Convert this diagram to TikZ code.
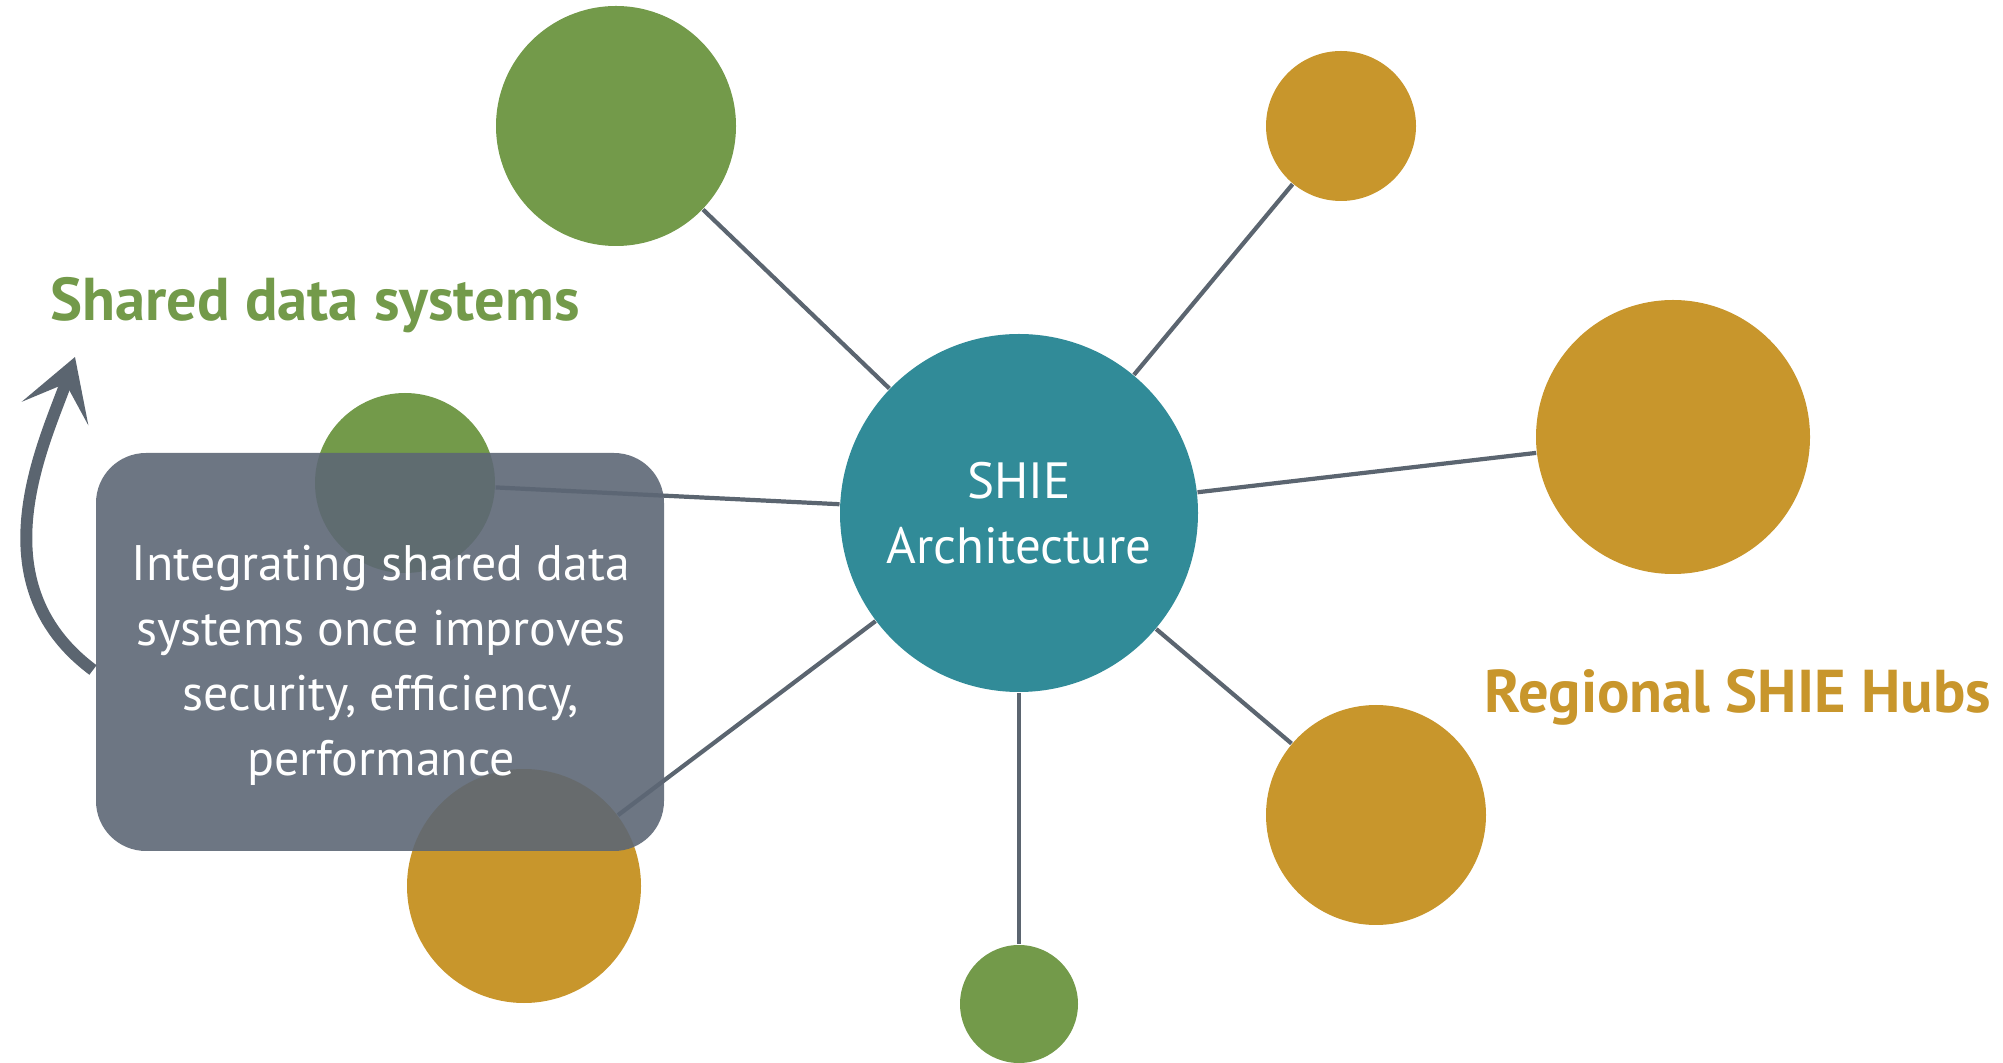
\documentclass[tikz,border=0pt]{standalone}
\usepackage{fontspec}
\setmainfont{PT Sans}
\usetikzlibrary{arrows.meta}
\definecolor{sysgreen}{HTML}{739A4A}
\definecolor{hubgold}{HTML}{C8962C}
\definecolor{archteal}{HTML}{318B98}
\definecolor{linegray}{HTML}{5B6570}
\definecolor{boxgray}{HTML}{5D6775}
\tikzset{
    bubble/.style={circle, inner sep=0pt, minimum size=#1},
    sysbubble/.style={bubble=#1, fill=sysgreen},
    hubbubble/.style={bubble=#1, fill=hubgold},
    spoke/.style={draw=linegray, line width=1.2pt},
    infobox/.style={rounded corners=0.5cm, fill=boxgray, fill opacity=0.9, minimum width=5.68cm, minimum height=3.98cm},
    body text/.style={text=white, align=center, font=\fontsize{14.2pt}{18.5pt}\selectfont},
    label text/.style={font=\fontsize{17.2pt}{20pt}\selectfont\bfseries},
}

\begin{document}
\begin{tikzpicture}
        \useasboundingbox (0, 0) rectangle (20.03, 10.62);
        %hub and outer circles
        \node[bubble=3.58cm, fill=archteal, body text, font=\fontsize{14.5pt}{18.5pt}\selectfont] (arch) at (10.19, 5.49) {SHIE\\Architecture};
        \node[sysbubble=2.40cm] (sysA) at (6.16, 9.36) {};
        \node[sysbubble=1.80cm] (sysB) at (4.05, 5.79) {};
        \node[sysbubble=1.18cm] (sysC) at (10.19, 0.58) {};
        \node[hubbubble=1.50cm] (hubA) at (13.41, 9.36) {};
        \node[hubbubble=2.74cm] (hubB) at (16.73, 6.25) {};
        \node[hubbubble=2.20cm] (hubC) at (13.76, 2.47) {};
        \node[hubbubble=2.34cm] (hubD) at (5.24, 1.76) {};
        %spokes
        \foreach \n in {sysA, sysB, sysC, hubA, hubB, hubC, hubD}
            \draw[spoke] (arch) -- (\n);
        %info box
        \node[infobox] (info) at (3.80, 4.10) {};
        \node[body text] (infotext) at (3.81, 3.97)
            {Integrating shared data\\systems once improves\\security, efficiency,\\performance};
        %labels
        \node[label text, text=sysgreen] (syslabel) at (3.15, 7.57) {Shared data systems};
        \node[label text, text=hubgold] (hublabel) at (17.38, 3.65) {Regional SHIE Hubs};
        %curved arrow
        \coordinate (arrowstart) at (0.93, 3.92);
        \coordinate (arrowtip) at (0.75, 7.05);
        \draw[linegray, line width=3.4pt, -{Stealth[length=17pt, width=20pt, inset=9pt]}]
            (arrowstart) .. controls (-0.25, 4.8) and (0.45, 6.2) .. (arrowtip);
    \end{tikzpicture}
\end{document}
